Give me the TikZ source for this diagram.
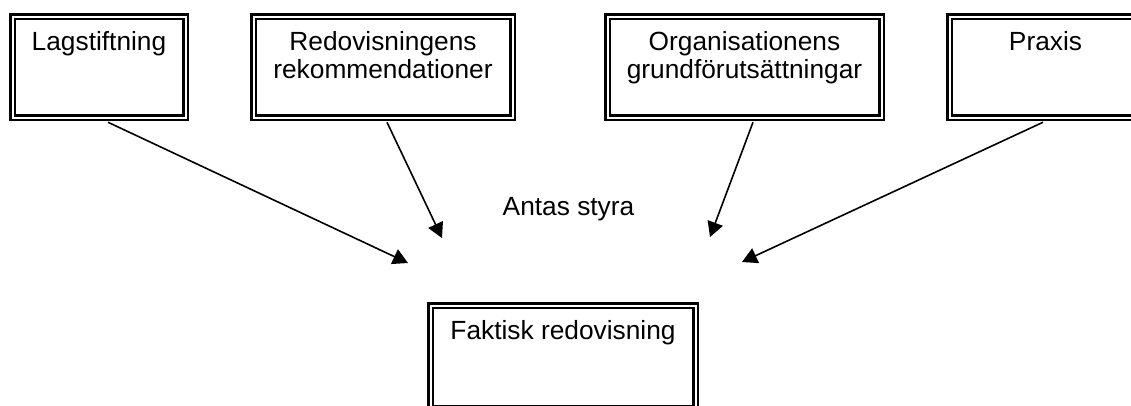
\documentclass[tikz,border=0pt]{standalone}
\usepackage{fontspec}
\setmainfont{Liberation Sans}
\usetikzlibrary{arrows.meta}
\begin{document}
\begin{tikzpicture}[x=1pt,y=-1pt]
% Stilar
\tikzstyle{pil}=[-{Triangle[length=15pt,width=16pt]},line width=1.6pt]
\tikzstyle{ruta}=[draw,double,line width=2.5pt,double distance=2pt,inner sep=0pt,minimum height=101pt]
\tikzstyle{rubrik}=[font=\fontsize{26.3}{28}\selectfont,align=center,inner sep=0pt,anchor=north,yshift=-16pt]
% Nivåer
\def\NivaOvre{67}
\def\NivaUndre{357}
\def\Kant{-3.5pt}
\useasboundingbox (0,0) rectangle (1131,405);
% Rutor
\node[ruta,minimum width=173pt,label={[rubrik]north:Lagstiftning}] (lag) at (99,\NivaOvre) {};
\node[ruta,minimum width=259pt,label={[rubrik]north:Redovisningens\\rekommendationer}] (rek) at (383,\NivaOvre) {};
\node[ruta,minimum width=274pt,label={[rubrik]north:Organisationens\\grundförutsättningar}] (org) at (744.5,\NivaOvre) {};
\node[ruta,minimum width=192pt,label={[rubrik]north:Praxis}] (prax) at (1045.5,\NivaOvre) {};
\node[ruta,minimum width=265pt,minimum height=103pt,label={[rubrik]north:Faktisk redovisning}] (fakt) at (563,\NivaUndre) {};
\node[font=\fontsize{26.3}{28}\selectfont,anchor=base,inner sep=0pt] (antas) at (568.5,215) {Antas styra};
% Pilspetsar
\coordinate (m1) at (408,263);
\coordinate (m2) at (442,238);
\coordinate (m3) at (710,237);
\coordinate (m4) at (742,262);
% Pilar
\draw[pil] ([xshift=9pt,yshift=\Kant]lag.south) -- (m1);
\draw[pil] ([xshift=4pt,yshift=\Kant]rek.south) -- (m2);
\draw[pil] ([xshift=8.5pt,yshift=\Kant]org.south) -- (m3);
\draw[pil] ([xshift=-2.5pt,yshift=\Kant]prax.south) -- (m4);
\end{tikzpicture}
\end{document}
